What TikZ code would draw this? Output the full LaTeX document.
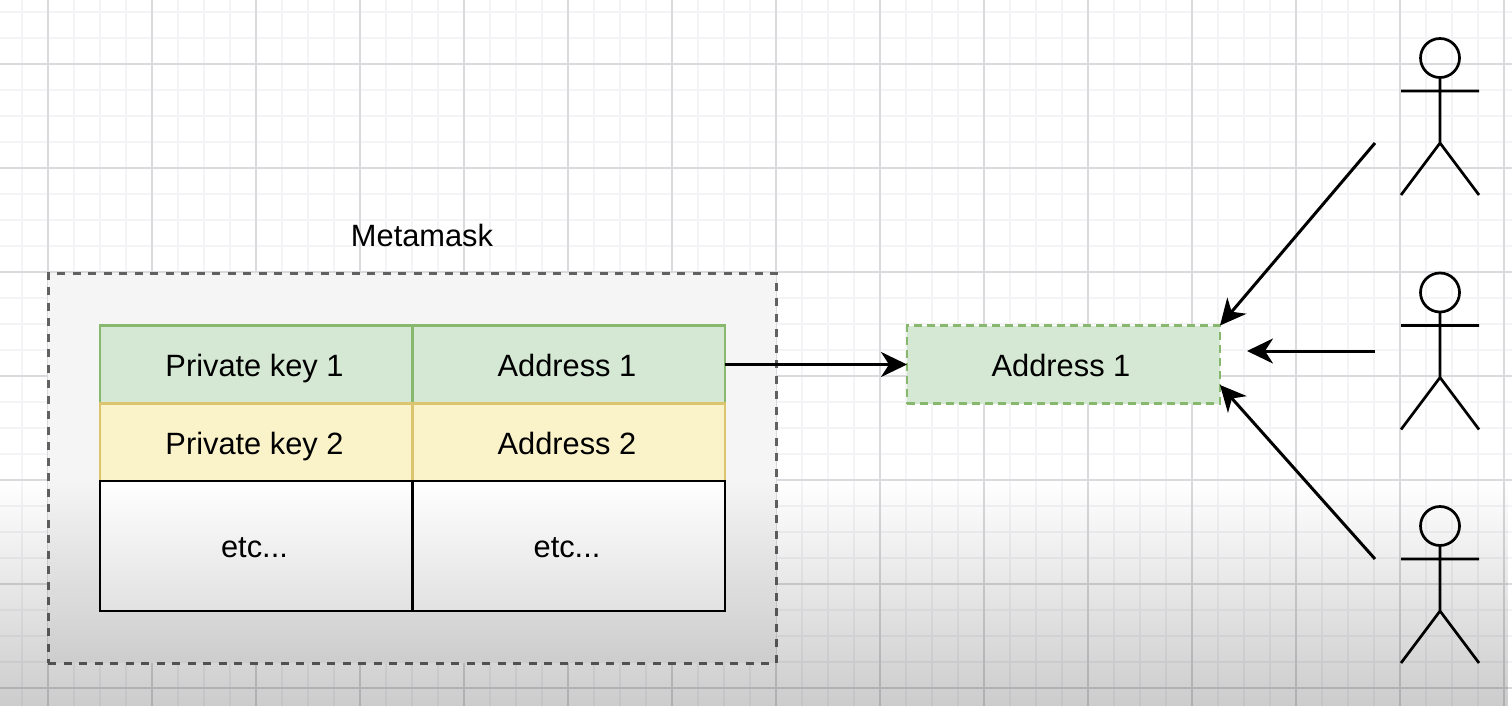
\documentclass[tikz,border=0pt]{standalone}
\usepackage{fontspec}
\setmainfont{Liberation Sans}
\usetikzlibrary{arrows.meta,fadings}
\definecolor{gridminor}{RGB}{244,244,247}
\definecolor{gridmajor}{RGB}{218,218,222}
\definecolor{greenfill}{RGB}{213,232,212}
\definecolor{greenline}{RGB}{136,184,110}
\definecolor{yellowfill}{RGB}{250,243,202}
\definecolor{yellowline}{RGB}{218,196,110}
\tikzfading[name=bottomfade, top color=transparent!100, bottom color=transparent!80]
\tikzset{
    cell/.style={draw, line width=2.5pt, inner sep=0pt, outer sep=0pt, minimum width=312.5pt, text=black,
        text height=27pt, text depth=4pt, execute at end node=\kern3pt},
    greencell/.style={cell, draw=greenline, fill=greenfill, minimum height=78pt},
    yellowcell/.style={cell, draw=yellowline, fill=yellowfill, minimum height=78pt},
    blankcell/.style={cell, draw=black, fill=white, minimum height=130pt},
    arrowline/.style={draw=black, line width=3pt, -{Stealth[length=26pt, width=25pt, inset=8pt]}},
    actorline/.style={draw=black, line width=2.7pt},
    actorhead/.style={circle, draw=black, line width=2.7pt, minimum size=39pt, inner sep=0pt, outer sep=0pt}
}
\begin{document}
\begin{tikzpicture}[x=1pt, y=-1pt, font=\fontsize{30.8}{34}\selectfont]
    \useasboundingbox (0,0) rectangle (1512,706);
    \fill[white] (0,0) rectangle (1512,706);
    % grid
    \foreach \i in {0,...,58} {
        \draw[gridminor, line width=1.5pt] ({22+26*\i},0) -- ({22+26*\i},706);
    }
    \foreach \i in {0,...,27} {
        \draw[gridminor, line width=1.5pt] (0,{12+26*\i}) -- (1512,{12+26*\i});
    }
    \foreach \i in {0,...,14} {
        \draw[gridmajor, line width=1.3pt] ({48+104*\i},0) -- ({48+104*\i},706);
    }
    \foreach \i in {0,...,6} {
        \draw[gridmajor, line width=1.3pt] (0,{64+104*\i}) -- (1512,{64+104*\i});
    }
    % wallet
    \node[draw=black!62, fill=black!4, dashed, dash pattern=on 8pt off 7.5pt, line width=3pt, inner sep=0pt, outer sep=0pt, minimum width=728pt, minimum height=390pt] (wallet) at (412,468) {};
    \node (title) at (422,235.5) {Metamask};
    \node[greencell] (K1) at (256,364.5) {Private key 1};
    \node[greencell] (A1) at (568.5,364.5) {Address 1};
    \node[yellowcell] (K2) at (256,442.5) {Private key 2};
    \node[yellowcell] (A2) at (568.5,442.5) {Address 2};
    \node[blankcell] (K3) at (256,546) {etc...};
    \node[blankcell] (A3) at (568.5,546) {etc...};
    % public address
    \node[greencell, dashed, dash pattern=on 8pt off 5pt, minimum width=313pt] (pub) at (1063.5,364.5) {Address 1\kern2pt};
    \draw[arrowline] (A1) -- (pub);
    % people
    \foreach \i/\y in {1/58, 2/292.5, 3/526} {
        \node[actorhead] (H\i) at (1440,\y) {};
        \coordinate (L\i) at (1401,\y+33);
        \coordinate (R\i) at (1479,\y+33);
        \coordinate (B\i) at (1440,\y+85);
        \coordinate (FL\i) at (1401,\y+137);
        \coordinate (FR\i) at (1479,\y+137);
        \draw[actorline] (H\i) -- (B\i) (L\i) -- (R\i) (FL\i) -- (B\i) -- (FR\i);
    }
    \coordinate (U1) at (1375,143);
    \coordinate (U2) at (1375,351);
    \coordinate (U3) at (1375,559);
    \coordinate (T2) at (1247,351);
    \coordinate (T3) at (1220,385);
    \draw[arrowline] (U1) -- (pub.north east);
    \draw[arrowline] (U2) -- (T2);
    \draw[arrowline] (U3) -- (T3);
    % darkening towards the bottom
    \fill[black, path fading=bottomfade] (0,480) rectangle (1512,706);
\end{tikzpicture}
\end{document}
